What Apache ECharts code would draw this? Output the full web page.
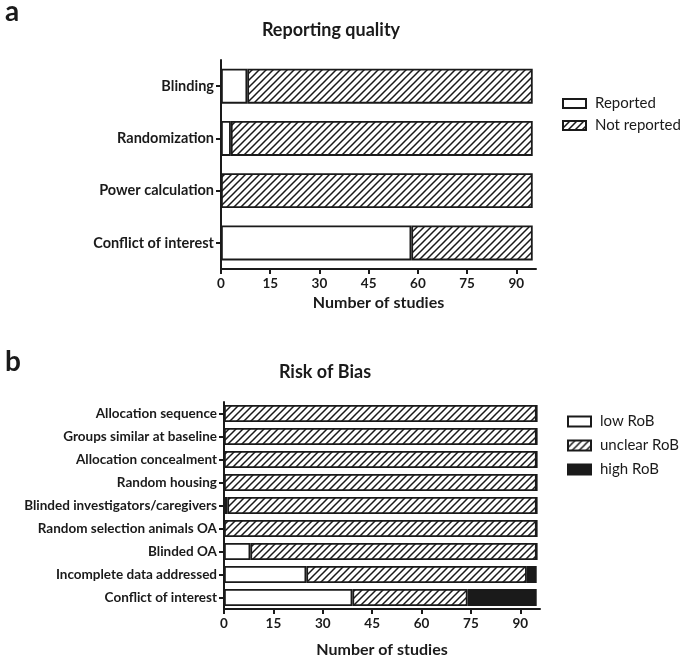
<!DOCTYPE html>
<html>
<head>
<meta charset="utf-8">
<script src="https://cdn.jsdelivr.net/npm/echarts@6/dist/echarts.min.js"></script>
<style>
  html, body { margin: 0; padding: 0; background: #fff; }
  #main { width: 685px; height: 659px; }
</style>
</head>
<body>
<div id="main"></div>
<script>
// panel a - reporting quality
var qualityCats = ["Blinding", "Randomization", "Power calculation", "Conflict of interest"];
var reported = [8, 3, 0, 58];
var notReported = [87, 92, 95, 37];

// panel b - risk of bias
var robCats = ["Allocation sequence", "Groups similar at baseline", "Allocation concealment",
    "Random housing", "Blinded investigators/caregivers", "Random selection animals OA",
    "Blinded OA", "Incomplete data addressed", "Conflict of interest"];
var lowRob = [0, 0, 0, 0, 1, 0, 8, 25, 39];
var unclearRob = [95, 95, 95, 95, 94, 95, 87, 67, 35];
var highRob = [0, 0, 0, 0, 0, 0, 0, 3, 21];

var xTicks = [0, 15, 30, 45, 60, 75, 90];

var font = "Lato";
var ink = "#1a1a1a";

// hatch pattern ///
function hatch(size) {
    var c = document.createElement("canvas");
    c.width = size;
    c.height = size;
    var ctx = c.getContext("2d");
    ctx.fillStyle = "#fff";
    ctx.fillRect(0, 0, size, size);
    ctx.strokeStyle = ink;
    ctx.lineWidth = 1.5;
    ctx.beginPath();
    ctx.moveTo(0, size); ctx.lineTo(size, 0);
    ctx.moveTo(-size, size); ctx.lineTo(size, -size);
    ctx.moveTo(0, 2 * size); ctx.lineTo(2 * size, 0);
    ctx.stroke();
    return c;
}
var hatchA = { image: hatch(7), repeat: "repeat" };
var hatchB = { image: hatch(7), repeat: "repeat" };

function xAxisCfg(grid, gap, nameGap) {
    return {
        type: "value",
        gridIndex: grid,
        min: 0,
        max: 96,
        interval: 15,
        name: "Number of studies",
        nameLocation: "middle",
        nameGap: nameGap,
        nameTextStyle: { fontFamily: font, fontWeight: "bold", fontSize: 16, color: ink },
        axisLine: { show: true, lineStyle: { color: ink, width: 2 } },
        axisTick: { show: true, length: 5, lineStyle: { color: ink, width: 2 }, customValues: xTicks },
        axisLabel: { fontFamily: font, fontWeight: "bold", fontSize: 13.5, color: ink, margin: gap, customValues: xTicks },
        splitLine: { show: false }
    };
}

function yAxisCfg(grid, cats, size) {
    return {
        type: "category",
        gridIndex: grid,
        data: cats,
        inverse: true,
        axisLine: { show: true, lineStyle: { color: ink, width: 2 } },
        axisTick: { show: true, length: 5, alignWithLabel: true, lineStyle: { color: ink, width: 2 } },
        axisLabel: { fontFamily: font, fontWeight: "bold", fontSize: size, color: ink, margin: 7 }
    };
}

function bar(name, data, ax, color, width) {
    return {
        name: name,
        type: "bar",
        stack: "s" + ax,
        xAxisIndex: ax,
        yAxisIndex: ax,
        data: data,
        barWidth: width,
        itemStyle: { color: color, borderColor: ink, borderWidth: 1.8 },
        emphasis: { disabled: true },
        animation: false
    };
}

var myChart = echarts.init(document.getElementById("main"));
var option = {
    animation: false,
    title: [
        { text: "a", left: 0, top: -7, textStyle: { fontFamily: font, fontWeight: "bold", fontSize: 28, color: ink } },
        { text: "Reporting quality", left: 326, top: 16, textAlign: "center", textStyle: { fontFamily: font, fontWeight: "bold", fontSize: 18, color: ink } },
        { text: "b", left: 0, top: 343, textStyle: { fontFamily: font, fontWeight: "bold", fontSize: 28, color: ink } },
        { text: "Risk of Bias", left: 320, top: 358, textAlign: "center", textStyle: { fontFamily: font, fontWeight: "bold", fontSize: 18, color: ink } }
    ],
    legend: [
        {
            data: ["Reported", "Not reported"],
            orient: "vertical",
            left: 557,
            top: 91,
            icon: "rect",
            itemWidth: 23,
            itemHeight: 9,
            itemGap: 7,
            textStyle: { fontFamily: font, fontSize: 15, color: ink, padding: [0, 0, 0, 4] },
            selectedMode: false
        },
        {
            data: ["low RoB", "unclear RoB", "high RoB"],
            orient: "vertical",
            left: 562,
            top: 409,
            icon: "rect",
            itemWidth: 23,
            itemHeight: 10,
            itemGap: 9,
            textStyle: { fontFamily: font, fontSize: 15, color: ink, padding: [0, 0, 0, 4] },
            selectedMode: false
        }
    ],
    grid: [
        { left: 221, top: 60, width: 315, height: 209 },
        { left: 224, top: 402, width: 316, height: 211 }
    ],
    xAxis: [xAxisCfg(0, 8, 26), xAxisCfg(1, 8, 33)],
    yAxis: [yAxisCfg(0, qualityCats, 14.5), yAxisCfg(1, robCats, 13.5)],
    series: [
        bar("Reported", reported, 0, "#fff", 35),
        bar("Not reported", notReported, 0, hatchA, 35),
        bar("low RoB", lowRob, 1, "#fff", 17),
        bar("unclear RoB", unclearRob, 1, hatchB, 17),
        bar("high RoB", highRob, 1, ink, 17)
    ]
};
myChart.setOption(option);
</script>
</body>
</html>
